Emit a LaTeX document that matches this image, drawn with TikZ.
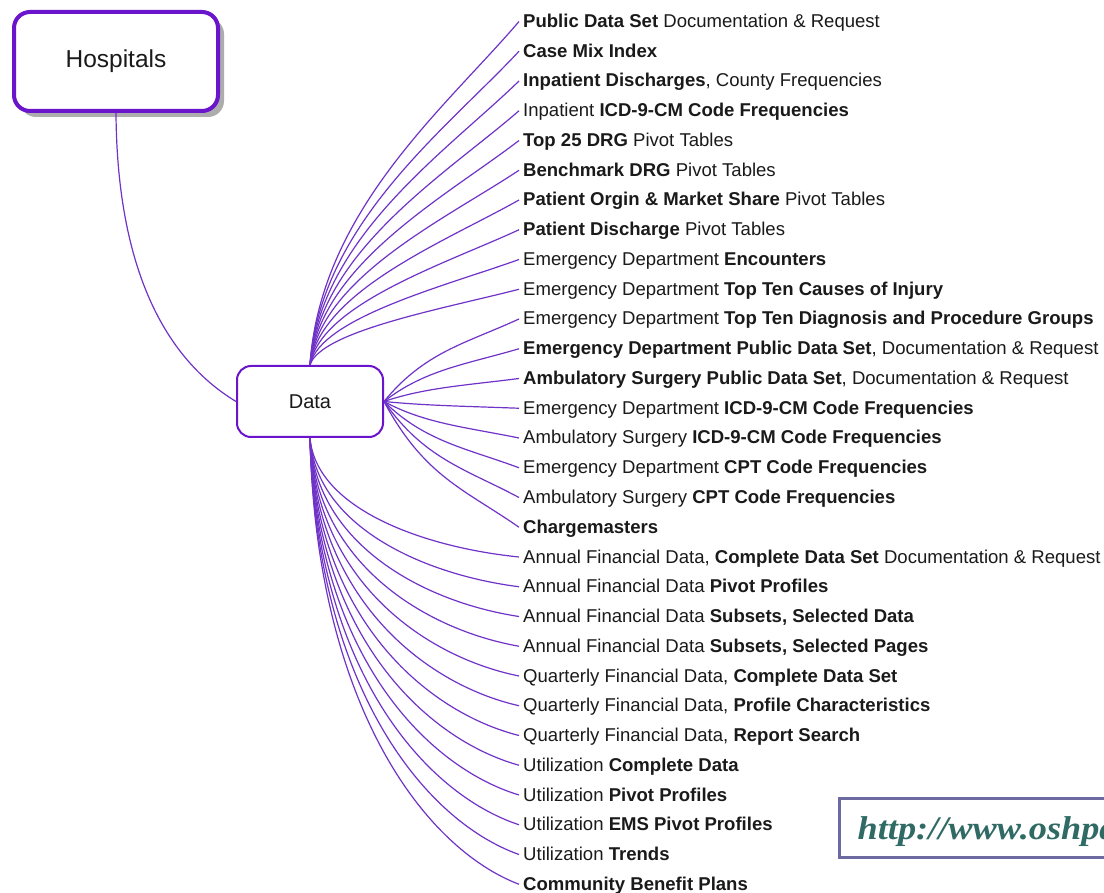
\documentclass[tikz,border=0pt]{standalone}
\usepackage{fontspec}
\setmainfont{Liberation Sans}
\newfontfamily\urlfont[FakeStretch=1.1]{Liberation Serif}
\usetikzlibrary{calc,shadows}
\definecolor{conncol}{HTML}{7033C8}
\definecolor{boxcol}{HTML}{6A14CC}
\definecolor{urlborder}{HTML}{6C6AA0}
\definecolor{urltext}{HTML}{2F6B64}
\definecolor{txtcol}{HTML}{1A1A1A}
\newcommand\bx[1]{\textbf{#1}}
\begin{document}
\begin{tikzpicture}[x=1pt,y=-1pt,
  leaf/.style={anchor=west,inner xsep=4pt,inner ysep=0pt,text height=12pt,text depth=0pt,
    font=\fontsize{18.55}{20}\selectfont,text=txtcol},
  conn/.style={draw=conncol,line width=1.2pt},
  topbox/.style={draw=boxcol,line width=4pt,rounded corners=16pt,fill=white,
    minimum width=204pt,minimum height=99pt,font=\fontsize{24.5}{28}\selectfont,text=txtcol,
    drop shadow={shadow xshift=6pt,shadow yshift=-6pt,fill=black!32,opacity=1}},
  midbox/.style={draw=boxcol,line width=2pt,rounded corners=14pt,fill=white,
    minimum width=146pt,minimum height=71pt,font=\fontsize{20}{24}\selectfont,text=txtcol},
  urlbox/.style={draw=urlborder,line width=3pt,inner sep=0pt}]
\useasboundingbox (0,0) rectangle (1104,893);
\clip (0,0) rectangle (1104,893);
\fill[white] (0,0) rectangle (1104,893);

\node[topbox] (hosp) at (116,61.5) {Hospitals};
\node[midbox] (data) at (310,401.5) {Data};

\node[leaf] (l1) at (519,21.5) {\bx{Public Data Set} Documentation \& Request};
\node[leaf] (l2) at (519,51.25) {\bx{Case Mix Index}};
\node[leaf] (l3) at (519,81) {\bx{Inpatient Discharges}, County Frequencies};
\node[leaf] (l4) at (519,110.75) {Inpatient \bx{ICD-9-CM Code Frequencies}};
\node[leaf] (l5) at (519,140.5) {\bx{Top 25 DRG} Pivot Tables};
\node[leaf] (l6) at (519,170.25) {\bx{Benchmark DRG} Pivot Tables};
\node[leaf] (l7) at (519,200) {\bx{Patient Orgin \& Market Share} Pivot Tables};
\node[leaf] (l8) at (519,229.75) {\bx{Patient Discharge} Pivot Tables};
\node[leaf] (l9) at (519,259.5) {Emergency Department \bx{Encounters}};
\node[leaf] (l10) at (519,289.25) {Emergency Department \bx{Top Ten Causes of Injury}};
\node[leaf] (l11) at (519,319) {Emergency Department \bx{Top Ten Diagnosis and Procedure Groups}};
\node[leaf] (l12) at (519,348.75) {\bx{Emergency Department Public Data Set}, Documentation \& Request};
\node[leaf] (l13) at (519,378.5) {\bx{Ambulatory Surgery Public Data Set}, Documentation \& Request};
\node[leaf] (l14) at (519,408.25) {Emergency Department \bx{ICD-9-CM Code Frequencies}};
\node[leaf] (l15) at (519,438) {Ambulatory Surgery \bx{ICD-9-CM Code Frequencies}};
\node[leaf] (l16) at (519,467.75) {Emergency Department \bx{CPT Code Frequencies}};
\node[leaf] (l17) at (519,497.5) {Ambulatory Surgery \bx{CPT Code Frequencies}};
\node[leaf] (l18) at (519,527.25) {\bx{Chargemasters}};
\node[leaf] (l19) at (519,557) {Annual Financial Data, \bx{Complete Data Set} Documentation \& Request};
\node[leaf] (l20) at (519,586.75) {Annual Financial Data \bx{Pivot Profiles}};
\node[leaf] (l21) at (519,616.5) {Annual Financial Data \bx{Subsets, Selected Data}};
\node[leaf] (l22) at (519,646.25) {Annual Financial Data \bx{Subsets, Selected Pages}};
\node[leaf] (l23) at (519,676) {Quarterly Financial Data, \bx{Complete Data Set}};
\node[leaf] (l24) at (519,705.75) {Quarterly Financial Data, \bx{Profile Characteristics}};
\node[leaf] (l25) at (519,735.5) {Quarterly Financial Data, \bx{Report Search}};
\node[leaf] (l26) at (519,765.25) {Utilization \bx{Complete Data}};
\node[leaf] (l27) at (519,795) {Utilization \bx{Pivot Profiles}};
\node[leaf] (l28) at (519,824.75) {Utilization \bx{EMS Pivot Profiles}};
\node[leaf] (l29) at (519,854.5) {Utilization \bx{Trends}};
\node[leaf] (l30) at (519,884.25) {\bx{Community Benefit Plans}};

% Hospitals to Data
\draw[conn] (hosp.south) .. controls ($(hosp.south)+(1,147)$) and ($(data.west)+(-76,-46)$) .. (data.west);

% top group
\foreach \i in {1,...,10}{
  \draw[conn] let \p1=(data.north), \p2=(l\i.west) in
    (\p1) .. controls (\x1+0.05*\x2-0.05*\x1, \y1+0.45*\y2-0.45*\y1)
             and (\x2-0.35*\x2+0.35*\x1, \y2-0.25*\y2+0.25*\y1) .. (\p2);
}
% right group
\foreach \i in {11,...,18}{
  \draw[conn] let \p1=(data.east), \p2=(l\i.west) in
    (\p1) .. controls (\x1+0.3*\x2-0.3*\x1, \y1+0.6*\y2-0.6*\y1)
             and (\x2-0.4*\x2+0.4*\x1, \y2-0.3*\y2+0.3*\y1) .. (\p2);
}
% bottom group
\foreach \i in {19,...,30}{
  \draw[conn] let \p1=(data.south), \p2=(l\i.west) in
    (\p1) .. controls (\x1+0.03*\x2-0.03*\x1, \y1+0.6*\y2-0.6*\y1)
             and (\x2-0.45*\x2+0.45*\x1, \y2-0.08*\y2+0.08*\y1) .. (\p2);
}

% URL box
\node[urlbox,minimum width=271pt,minimum height=59pt,anchor=north west] (urlb) at (837.5,796.5) {};
\node[anchor=base west,inner sep=0pt,text=urltext,font={\urlfont\bfseries\itshape\fontsize{33}{36}\selectfont}] (url) at ($(urlb.west)+(20,12)$) {http://www.oshpd};
\end{tikzpicture}
\end{document}
